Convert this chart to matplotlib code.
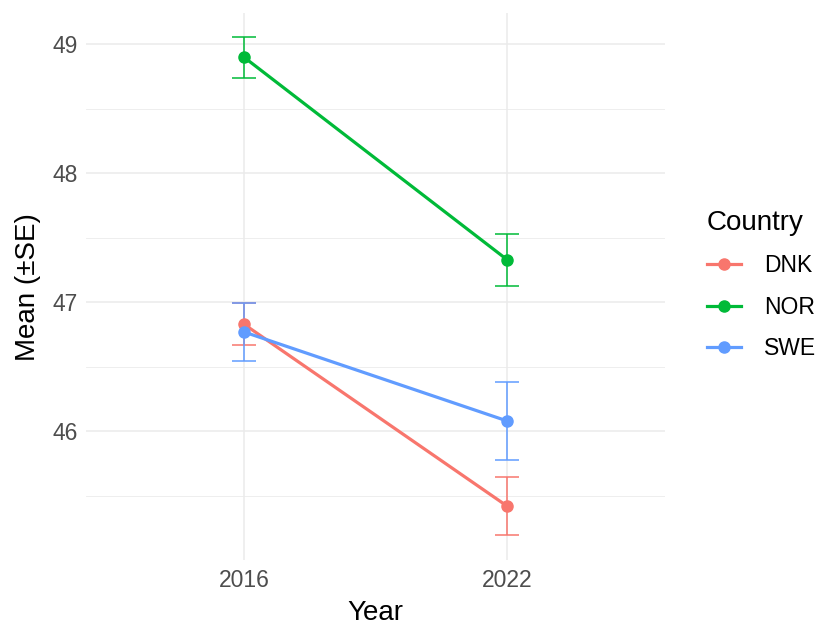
import matplotlib
matplotlib.use("Agg")
import matplotlib.pyplot as plt
from matplotlib.lines import Line2D

plt.rcParams["font.family"] = ["Liberation Sans", "DejaVu Sans"]

years = ["2016", "2022"]
countries = ["DNK", "NOR", "SWE"]
colors = {"DNK": "#F8766D", "NOR": "#00BA38", "SWE": "#619CFF"}
means = {
    "DNK": [46.83, 45.42],
    "NOR": [48.90, 47.33],
    "SWE": [46.77, 46.08],
}
ses = {
    "DNK": [0.165, 0.225],
    "NOR": [0.16, 0.20],
    "SWE": [0.225, 0.30],
}

fig = plt.figure(figsize=(8.21, 6.27), dpi=100)
ax = fig.add_axes([0.1048, 0.1062, 0.7052, 0.8734])

xpos = list(range(1, len(years) + 1))
for c in countries:
    m, s = means[c], ses[c]
    ax.errorbar(xpos, m, yerr=s, fmt="none", ecolor=colors[c],
                elinewidth=1.1, capsize=8.6, capthick=1.1, zorder=3)
    ax.plot(xpos, m, color=colors[c], lw=2.3, marker="o", ms=8,
            solid_capstyle="butt", zorder=4)

ax.set_xlim(0.4, 2.6)
ax.set_ylim(44.999, 49.244)
ax.set_xticks(xpos)
ax.set_xticklabels(years)
ax.set_yticks([46, 47, 48, 49])
ax.set_yticks([45.5, 46.5, 47.5, 48.5], minor=True)

ax.grid(True, which="major", color="#EBEBEB", lw=1.1, zorder=0)
ax.grid(True, which="minor", axis="y", color="#EBEBEB", lw=0.6, zorder=0)
ax.set_axisbelow(True)
for sp in ax.spines.values():
    sp.set_visible(False)
ax.tick_params(which="both", length=0, labelsize=16.5, labelcolor="#4D4D4D",
               pad=6)

ax.set_xlabel("Year", fontsize=20, labelpad=6)
ax.set_ylabel("Mean (±SE)", fontsize=20, labelpad=8)

handles = [Line2D([0], [0], color=colors[c], lw=2.3, marker="o", ms=8)
           for c in countries]
leg = fig.legend(handles, countries, title="Country", loc="upper left",
                 bbox_to_anchor=(0.836, 0.698), frameon=False,
                 fontsize=16.5, title_fontsize=20, labelspacing=0.8,
                 handlelength=1.5, handletextpad=1.0)
leg._legend_box.align = "left"

fig.savefig("out.png", dpi=100)
